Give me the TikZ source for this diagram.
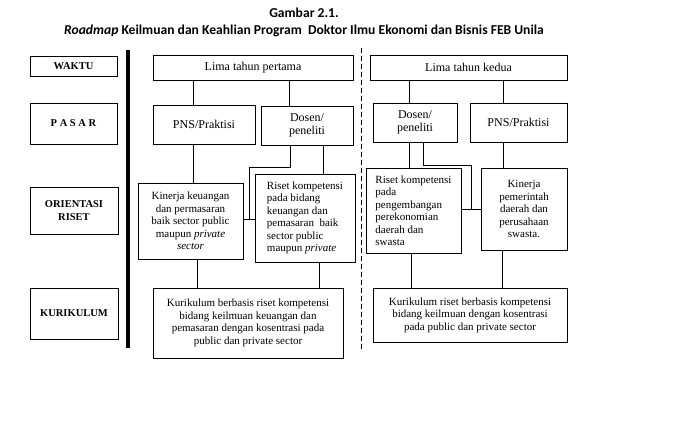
\documentclass[tikz,border=0pt]{standalone}
\usepackage{fontspec}
\setmainfont{Liberation Serif}
\newfontfamily\judul{Carlito}
\usetikzlibrary{calc}

\tikzset{
  kotak/.style={draw, line width=0.8pt, inner xsep=3pt, inner ysep=2pt, align=center,
    font=\fontsize{11}{12.5}\selectfont},
  atas/.style={kotak, font=\fontsize{12}{13.5}\selectfont},
  label/.style={kotak, font=\bfseries\fontsize{10.5}{12.5}\selectfont},
  garis/.style={line width=0.8pt}
}

\begin{document}
\begin{tikzpicture}[x=1pt, y=-1pt]
    \useasboundingbox (0,0) rectangle (688,423);
    % Judul gambar
    \node[font=\judul\bfseries\fontsize{13.6}{15}\selectfont] (judul) at (304,13) {Gambar 2.1.};
    \node[font=\judul\bfseries\fontsize{13.6}{15}\selectfont] (subjudul) at (304,31)
      {\textit{Roadmap} Keilmuan dan Keahlian Program\ \ Doktor Ilmu Ekonomi dan Bisnis FEB Unila};
    % Kolom label
    \node[label, minimum width=87pt, minimum height=20pt] (waktu) at (73.5,66) {WAKTU};
    \node[label, minimum width=87pt, minimum height=41pt] (pasar) at (73.5,123.5) {P\ A\ S\ A\ R};
    \node[label, minimum width=88pt, minimum height=47pt] (orientasi) at (74,210.5) {ORIENTASI\\RISET};
    \node[label, minimum width=88pt, minimum height=51pt] (kurikulum) at (74,313.5) {KURIKULUM};
    % Pemisah
    \draw[line width=4pt] (128,50) -- (128,348);
    \draw[line width=0.8pt, dash pattern=on 5pt off 3pt] (361,48) -- (361,350);
    % Waktu
    \node[atas, minimum width=200pt, minimum height=25pt] (tahun1) at (253,67.5) {Lima tahun pertama};
    \node[atas, minimum width=197pt, minimum height=25pt] (tahun2) at (468.5,67.5) {Lima tahun kedua};
    % Pasar
    \node[atas, minimum width=102pt, minimum height=39pt] (pns1) at (204,124.5) {PNS/Praktisi};
    \node[atas, minimum width=92pt, minimum height=39pt] (dosen1) at (307,125.5) {Dosen/\\peneliti};
    \node[atas, minimum width=84pt, minimum height=39pt] (dosen2) at (415,122.5) {Dosen/\\peneliti};
    \node[atas, minimum width=97pt, minimum height=39pt] (pns2) at (518.5,122.5) {PNS/Praktisi};
    % Orientasi riset
    \node[kotak, minimum width=105pt, minimum height=76pt] (kinerja1) at (190.5,221)
      {Kinerja keuangan\\dan permasaran\\baik sector public\\maupun \textit{private}\\\textit{sector}};
    \node[kotak, align=left, minimum width=100pt, minimum height=88pt] (riset1) at (305,218)
      {Riset kompetensi\\pada bidang\\keuangan dan\\pemasaran\ \ baik\\sector public\\maupun \textit{private}};
    \node[kotak, align=left, minimum width=95pt, minimum height=85pt] (riset2) at (413.5,210.5)
      {Riset kompetensi\\pada\\pengembangan\\perekonomian\\daerah dan\\swasta};
    \node[kotak, minimum width=86pt, minimum height=82pt] (kinerja2) at (524,209)
      {Kinerja\\pemerintah\\daerah dan\\perusahaan\\swasta.};
    % Kurikulum
    \node[kotak, minimum width=190pt, minimum height=70pt] (kur1) at (248,323)
      {Kurikulum berbasis riset kompetensi\\bidang keilmuan keuangan dan\\pemasaran dengan kosentrasi pada\\public dan private sector};
    \node[kotak, minimum width=194pt, minimum height=54pt] (kur2) at (470,315)
      {Kurikulum riset berbasis kompetensi\\bidang keilmuan dengan kosentrasi\\pada public dan private sector};
    % Garis penghubung
    \coordinate (simpul1) at ($(kinerja1.east)!0.5!(riset1.west)$);
    \coordinate (simpul2) at ($(riset2.east)!0.5!(kinerja2.west)$);
    \draw[garis] ([xshift=-11pt]pns1.north) -- ([xshift=-11pt]pns1.north |- tahun1.south);
    \draw[garis] ([xshift=-18pt]dosen1.north) -- ([xshift=-18pt]dosen1.north |- tahun1.south);
    \draw[garis] ([xshift=-6pt]dosen2.north) -- ([xshift=-6pt]dosen2.north |- tahun2.south);
    \draw[garis] ([xshift=-15.5pt]pns2.north) -- ([xshift=-15.5pt]pns2.north |- tahun2.south);
    \draw[garis] ([xshift=-11pt]pns1.south) -- ([xshift=-11pt]pns1.south |- kinerja1.north);
    \draw[garis] ([xshift=16pt]dosen1.south) -- ([xshift=16pt]dosen1.south |- riset1.north);
    \draw[garis] ([xshift=-17pt]dosen1.south) -- ++(0,22) -| (simpul1);
    \draw[garis] (kinerja1.east |- simpul1) -- (riset1.west |- simpul1);
    \draw[garis] ([xshift=-6pt]dosen2.south) -- ([xshift=-6pt]dosen2.south |- riset2.north);
    \draw[garis] ([xshift=8pt]dosen2.south) -- ++(0,23) -| (simpul2);
    \draw[garis] (riset2.east |- simpul2) -- (kinerja2.west |- simpul2);
    \draw[garis] ([xshift=-15.5pt]pns2.south) -- ([xshift=-15.5pt]pns2.south |- kinerja2.north);
    \draw[garis] ([xshift=6.5pt]kinerja1.south) -- ([xshift=6.5pt]kinerja1.south |- kur1.north);
    \draw[garis] ([xshift=14pt]riset1.south) -- ([xshift=14pt]riset1.south |- kur1.north);
    \draw[garis] ([xshift=-2.5pt]riset2.south) -- ([xshift=-2.5pt]riset2.south |- kur2.north);
    \draw[garis] ([xshift=-22pt]kinerja2.south) -- ([xshift=-22pt]kinerja2.south |- kur2.north);
\end{tikzpicture}
\end{document}
